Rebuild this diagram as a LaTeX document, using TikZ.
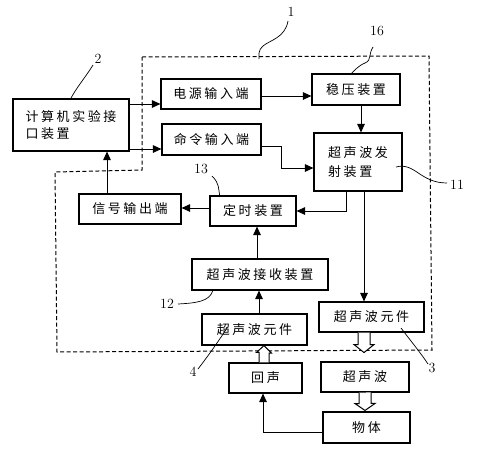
\documentclass[tikz,border=0pt]{standalone}
\usepackage{fontspec}
\newfontfamily\cjk[LetterSpace=20]{Noto Sans CJK SC}
\usetikzlibrary{arrows.meta,calc}
\begin{document}
\begin{tikzpicture}[x=1pt,y=-1pt,
  box/.style={draw,line width=1.1pt,inner sep=0pt,align=left,
    font=\cjk\fontsize{13}{15}\selectfont},
  arr/.style={line width=1pt,-{Triangle[length=8.5pt,width=7.5pt]}},
  plain/.style={line width=1pt},
  hollow/.style={draw,line width=1pt,fill=white},
  lead/.style={line width=0.7pt},
  num/.style={inner sep=0pt,font=\fontsize{14}{14}\selectfont},
  frame/.style={line width=1pt,dash pattern=on 4pt off 2.5pt}]
\useasboundingbox (0,0) rectangle (478,450);
\fill[white] (0,0) rectangle (478,450);

% dashed enclosure
\draw[frame] (142,57) -- (429,56) -- (432,350) -- (57,352) -- (55,172) -- (142,170) -- cycle;

% boxes
\node[box,minimum width=116pt,minimum height=52pt] (A) at (71,125) {计算机实验接\\[2pt]口装置};
\node[box,minimum width=100pt,minimum height=30pt] (B) at (211,94) {电源输入端};
\node[box,minimum width=99pt,minimum height=31pt] (C) at (211.5,139.5) {命令输入端};
\node[box,minimum width=88pt,minimum height=31pt] (D) at (356,89.5) {稳压装置};
\node[box,minimum width=88pt,minimum height=58pt] (E) at (358,162) {超声波发\\[4pt]射装置};
\node[box,minimum width=86pt,minimum height=30pt] (F) at (253,211) {定时装置};
\node[box,minimum width=102pt,minimum height=30pt] (G) at (130,209) {信号输出端};
\node[box,minimum width=136pt,minimum height=31pt] (H) at (260,274.5) {超声波接收装置};
\node[box,minimum width=105pt,minimum height=31pt] (I) at (254.5,329.5) {超声波元件};
\node[box,minimum width=105pt,minimum height=30pt] (J) at (371.5,317) {超声波元件};
\node[box,minimum width=73pt,minimum height=30pt] (K) at (265.5,378) {回声};
\node[box,minimum width=88pt,minimum height=30pt] (L) at (365,377) {超声波};
\node[box,minimum width=87pt,minimum height=31pt] (M) at (366.5,427.5) {物体};

% connectors
\draw[arr] (A.east |- 0,104) -- (B.west |- 0,104);
\draw[arr] (A.east |- 0,149) -- (C.west |- 0,149);
\draw[arr] (G.north -| 107,0) -- (A.south -| 107,0);
\draw[arr] (B.east |- 0,96) -- (D.west |- 0,96);
\draw[arr] (C.east |- 0,146) -- (281,146) -- (281,168) -- (E.west |- 0,168);
\draw[arr] (D.south -| 361,0) -- (E.north -| 361,0);
\draw[arr] (E.south -| 346,0) -- (346,211) -- (F.east |- 0,211);
\draw[arr] (F.west |- 0,208) -- (G.east |- 0,208);
\draw[arr] (E.south -| 364,0) -- (J.north -| 364,0);
\draw[arr] (H.north -| 257,0) -- (F.south -| 257,0);
\draw[arr] (I.north -| 259,0) -- (H.south -| 259,0);
\draw[arr] (M.west |- 0,432) -- (263,432) -- (K.south -| 263,0);

% hollow arrows
\draw[hollow] ($(K.north -| 264,0)+(-5,0)$) -- ++(0,-10) -- ++(-2.5,0) -- ($(I.south -| 264,0)$) -- ++(7.5,7.5) -- ++(-2.5,0) -- ($(K.north -| 264,0)+(5,0)$);
\draw[hollow] ($(J.south -| 364,0)+(-6,0)$) -- ++(0,12) -- ++(-4,0) -- ++(10,8) -- ++(10,-8) -- ++(-4,0) -- ++(0,-12);
\draw[hollow] ($(L.south -| 365,0)+(-6,0)$) -- ++(0,11) -- ++(-4,0) -- ($(M.north -| 365,0)+(0,-1)$) -- ++(10,-7) -- ++(-4,0) -- ++(0,-11);

% reference numbers and leaders
\node[num] (n1) at (291,12) {1};
\draw[lead] (288,21) .. controls (285,38) and (270,40) .. (263,46) .. controls (258,50) and (259,55) .. (259,59);
\node[num] (n16) at (377,31) {16};
\draw[lead] (373,47) .. controls (368,55) and (372,60) .. (365,63) .. controls (358,66) and (355,70) .. (351,74);
\node[num] (n2) at (98,59) {2};
\draw[lead] (93,65) .. controls (85,78) and (76,88) .. (70,100);
\node[num] (n13) at (201,169) {13};
\draw[lead] (212,176) .. controls (220,184) and (218,188) .. (220,197);
\node[num] (n11) at (457,185) {11};
\draw[lead] (396,167) .. controls (415,162) and (420,183) .. (447,183);
\node[num] (n12) at (167,304) {12};
\draw[lead] (178,304) .. controls (195,303) and (210,302) .. (213,290);
\node[num] (n4) at (193,372) {4};
\draw[lead] (198,369) .. controls (208,356) and (218,342) .. (227,328);
\node[num] (n3) at (432,368) {3};
\draw[lead] (428,364) .. controls (420,352) and (410,340) .. (401,328);
\end{tikzpicture}
\end{document}
